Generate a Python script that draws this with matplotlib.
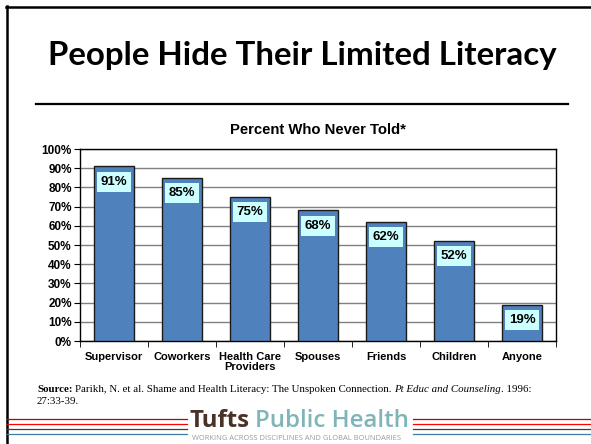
import numpy as np
import matplotlib.pyplot as plt
from matplotlib.lines import Line2D

categories = ['Supervisor', 'Coworkers', 'Health Care\nProviders', 'Spouses',
              'Friends', 'Children', 'Anyone']
values = [91, 85, 75, 68, 62, 52, 19]
yticks = list(range(0, 101, 10))

W, H = 591, 444
fig = plt.figure(figsize=(W / 100, H / 100), dpi=100)
fig.patch.set_facecolor('white')

def fx(x):
    return x / W

def fy(y):
    return 1 - y / H

def hline(x0, x1, y, color, lw=1.0):
    fig.add_artist(Line2D([fx(x0), fx(x1)], [fy(y), fy(y)], color=color,
                          lw=lw, transform=fig.transFigure))

# slide border (left and top)
fig.add_artist(Line2D([fx(7), fx(7)], [fy(6), fy(444)], color='black', lw=1.8,
                      transform=fig.transFigure))
hline(6, 591, 7, 'black', 1.8)

# slide title + rule
fig.text(fx(302), fy(65), 'People Hide Their Limited Literacy', ha='center',
         va='baseline', fontsize=23.8, fontweight='bold', family='Lato')
hline(36, 568, 104, 'black', 1.6)

# chart
ax = fig.add_axes([fx(80), fy(341), fx(556) - fx(80), fy(149) - fy(341)])
x = np.arange(len(categories))
bars = ax.bar(x, values, width=0.59, color='#4f81bd', edgecolor='#1a1a1a',
              linewidth=1.0, zorder=3)
ax.set_xlim(-0.5, len(categories) - 0.5)
ax.set_ylim(0, 100)
ax.set_yticks(yticks)
ax.set_yticklabels([f'{v}%' for v in yticks])
ax.yaxis.grid(True, color='#808080', lw=1.0, zorder=0)
ax.set_axisbelow(True)
ax.set_xticks(x)
ax.set_xticklabels(categories, linespacing=1.0)
ax.set_xticks(np.arange(len(categories) + 1) - 0.5, minor=True)
ax.tick_params(axis='x', which='major', length=0, pad=8)
ax.tick_params(axis='x', which='minor', length=4, direction='out')
ax.tick_params(axis='y', length=4, direction='out', pad=2)
for lab in ax.get_xticklabels():
    lab.set_fontweight('bold')
    lab.set_fontsize(8)
    lab.set_family('Liberation Sans')
for lab in ax.get_yticklabels():
    lab.set_fontweight('bold')
    lab.set_fontsize(8.5)
    lab.set_family('Liberation Sans')
for s in ax.spines.values():
    s.set_color('black')
    s.set_linewidth(1.0)

for xi, v in zip(x, values):
    ax.annotate(f'{v}%', (xi, v), xytext=(0, -11), textcoords='offset points',
                ha='center', va='center', fontsize=9.5, fontweight='bold',
                family='Liberation Sans', zorder=5,
                bbox=dict(boxstyle='square,pad=0.3', fc='#ccffff', ec='none'))

fig.text(fx(318), fy(130), 'Percent Who Never Told*', ha='center', va='center',
         fontsize=10.7, fontweight='bold', family='Liberation Sans')

# source line with mixed styles
renderer = fig.canvas.get_renderer()
parts = [('Source:', 'bold', 'normal', True),
         ('Parikh, N. et al. Shame and Health Literacy: The Unspoken Connection.', 'normal', 'normal', True),
         ('Pt Educ and Counseling', 'normal', 'italic', False),
         ('. 1996:', 'normal', 'normal', False)]
xpos = 37
src_fs = 7.8
space = src_fs * 0.25 * 100 / 72
for txt, wt, st, sep in parts:
    t = fig.text(fx(xpos), fy(392), txt, ha='left', va='baseline', fontsize=src_fs,
                 family='Liberation Serif', fontweight=wt, fontstyle=st)
    bb = t.get_window_extent(renderer)
    xpos += bb.width + (space if sep else 0)
fig.text(fx(37), fy(404), '27:33-39.', ha='left', va='baseline', fontsize=src_fs,
         family='Liberation Serif')

# footer logo with lines
for y, c in [(419, '#c00000'), (424, '#ff0000'), (429, '#4a3b2c'), (434, '#3d7ca3')]:
    hline(7, 187, y, c, 0.9)
    hline(413, 591, y, c, 0.9)
t1 = fig.text(fx(190), fy(427), 'Tufts', ha='left', va='baseline', fontsize=17.3,
              fontweight='bold', family='Open Sans', color='#4b3226')
bb = t1.get_window_extent(renderer)
fig.text(fx(190) + (bb.width + 5) / W, fy(427), 'Public Health', ha='left',
         va='baseline', fontsize=17.3, fontweight='semibold', family='Open Sans',
         color='#7fb5b9')
fig.text(fx(296), fy(438), 'WORKING ACROSS DISCIPLINES AND GLOBAL BOUNDARIES',
         ha='center', va='center', fontsize=5.4, color='#9a9a9a',
         family='Open Sans')

fig.savefig('out.png', dpi=100)
